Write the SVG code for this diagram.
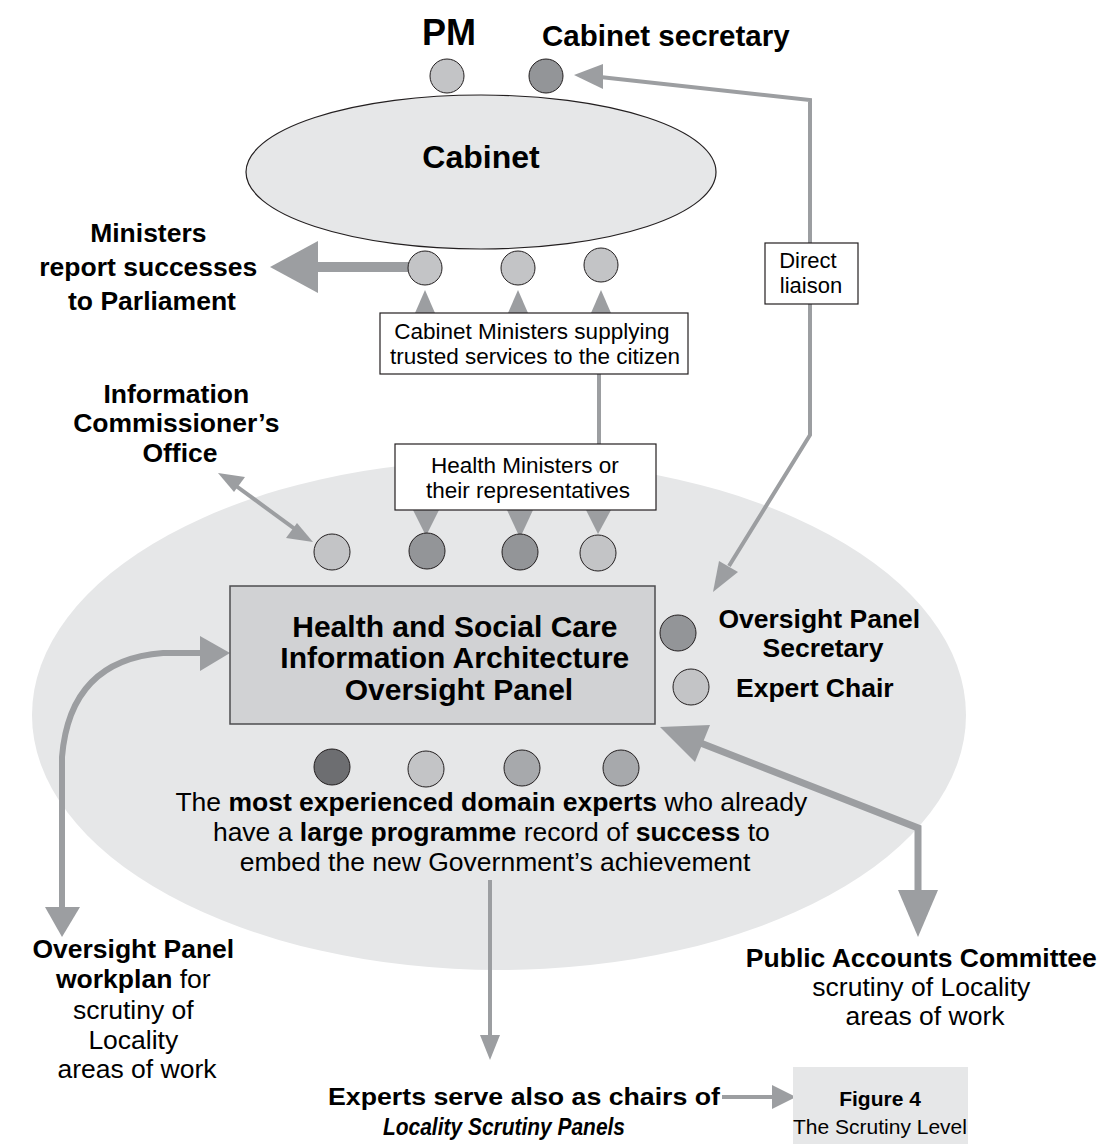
<svg xmlns="http://www.w3.org/2000/svg" width="1107" height="1144" viewBox="0 0 1107 1144">
  <defs>
    <style>
      text { font-family: "Liberation Sans", Arial, Helvetica, sans-serif; fill: #000; }
      .b { font-weight: bold; }
      .lbl { font-weight: bold; font-size: 26.5px; }
      .box { fill: #fff; stroke: #231f20; stroke-width: 1.2; }
      .small { font-size: 22.5px; }
      .dot { stroke: #231f20; stroke-width: 1; }
      .c1 { fill: #c3c4c6; }
      .c2 { fill: #a7a9ac; }
      .c3 { fill: #939598; }
      .c4 { fill: #6d6e71; }
      .ln { stroke: #9c9ea1; fill: none; }
      .hd { fill: #9c9ea1; }
      .narrow { font-family: "Liberation Sans Narrow", "Liberation Sans", Arial, sans-serif; }
    </style>
  </defs>

  <rect width="1107" height="1144" fill="#fff"/>

  <!-- background zone of the oversight level -->
  <ellipse id="oversight-zone" cx="499" cy="715" rx="467" ry="255" fill="#e6e7e8"/>

  <!-- connectors -->
  <g id="connectors">
    <!-- Ministers report to Parliament -->
    <line class="ln" x1="410" y1="267" x2="316" y2="267" stroke-width="10"/>
    <polygon class="hd" points="270,267 318,241 318,293"/>

    <!-- trunk from health ministers up to cabinet ministers -->
    <line class="ln" x1="599" y1="300" x2="599" y2="520" stroke-width="4"/>
    <polygon class="hd" points="425,290 415,313 435,313"/>
    <polygon class="hd" points="518,290 508,313 528,313"/>
    <polygon class="hd" points="601,290 591,313 611,313"/>

    <!-- health ministers down to panel members -->
    <polygon class="hd" points="413,510 439,510 426,536"/>
    <polygon class="hd" points="507,510 533,510 520,538"/>
    <polygon class="hd" points="586,510 611,510 598,534"/>

    <!-- Information Commissioner's Office two-way link -->
    <line class="ln" x1="232" y1="483" x2="299" y2="532" stroke-width="4"/>
    <polygon class="hd" points="218,473 245,477 234,492"/>
    <polygon class="hd" points="313,542 286,538 297,523"/>

    <!-- direct liaison between cabinet secretary and panel secretary -->
    <polyline class="ln" points="600,77 810,100 810,435 729,566" stroke-width="4"/>
    <polygon class="hd" points="574,75 603,64 603,89"/>
    <polygon class="hd" points="713,592 738,572 719,561"/>

    <!-- panel workplan loop -->
    <path class="ln" d="M 202 653 L 163 653 Q 70 660 62 757 L 62 909" stroke-width="6"/>
    <polygon class="hd" points="230,653 200,636 200,671"/>
    <polygon class="hd" points="45,907 80,907 62,937"/>

    <!-- Public Accounts Committee two-way link -->
    <polyline class="ln" points="698,742 918,828 918,892" stroke-width="7"/>
    <polygon class="hd" points="660,727 710,725 695,762"/>
    <polygon class="hd" points="898,890 938,890 918,937"/>

    <!-- experts down to locality panels -->
    <line class="ln" x1="490" y1="880" x2="490" y2="1037" stroke-width="4"/>
    <polygon class="hd" points="480,1035 500,1035 490,1060"/>

    <!-- locality panels to figure caption -->
    <line class="ln" x1="722" y1="1097" x2="774" y2="1097" stroke-width="4"/>
    <polygon class="hd" points="772,1085 772,1109 796,1097"/>
  </g>

  <!-- Prime Minister -->
  <g id="pm">
    <text class="b" x="449" y="45" font-size="36" text-anchor="middle">PM</text>
    <circle class="dot c1" cx="447" cy="76" r="17"/>
  </g>

  <!-- Cabinet secretary -->
  <g id="cabinet-secretary">
    <text class="b" x="542" y="46" font-size="29.5">Cabinet secretary</text>
    <circle class="dot c3" cx="546" cy="76" r="17"/>
  </g>

  <!-- Cabinet -->
  <g id="cabinet">
    <ellipse cx="481" cy="172" rx="235" ry="77" fill="#e6e7e8" stroke="#231f20" stroke-width="1.2"/>
    <text class="b" x="481" y="168" font-size="32" text-anchor="middle">Cabinet</text>
  </g>

  <!-- Cabinet ministers -->
  <g id="cabinet-ministers">
    <circle class="dot c1" cx="425" cy="268" r="17"/>
    <circle class="dot c1" cx="518" cy="268" r="17"/>
    <circle class="dot c1" cx="601" cy="265" r="17"/>
  </g>

  <g id="parliament">
    <text class="lbl" text-anchor="middle">
      <tspan x="152" y="242">Ministers</tspan>
      <tspan x="152" y="276">report successes</tspan>
      <tspan x="152" y="310">to Parliament</tspan>
    </text>
  </g>

  <g id="cabinet-ministers-label">
    <rect class="box" x="380" y="313" width="308" height="61"/>
    <text class="small" text-anchor="middle">
      <tspan x="535" y="339">Cabinet Ministers supplying</tspan>
      <tspan x="535" y="364">trusted services to the citizen</tspan>
    </text>
  </g>

  <g id="direct-liaison">
    <rect class="box" x="765" y="243" width="93" height="61"/>
    <text font-size="22" text-anchor="middle">
      <tspan x="811" y="268">Direct</tspan>
      <tspan x="811" y="293">liaison</tspan>
    </text>
  </g>

  <g id="ico">
    <text class="lbl" text-anchor="middle">
      <tspan x="180" y="403">Information</tspan>
      <tspan x="180" y="432">Commissioner’s</tspan>
      <tspan x="180" y="462">Office</tspan>
    </text>
  </g>

  <g id="health-ministers">
    <rect class="box" x="395" y="444" width="261" height="66"/>
    <text class="small" text-anchor="middle">
      <tspan x="528" y="473">Health Ministers or</tspan>
      <tspan x="528" y="498">their representatives</tspan>
    </text>
  </g>

  <!-- representatives sitting on the panel -->
  <g id="panel-representatives">
    <circle class="dot c1" cx="332" cy="552" r="18"/>
    <circle class="dot c3" cx="427" cy="551" r="18"/>
    <circle class="dot c3" cx="520" cy="552" r="18"/>
    <circle class="dot c1" cx="598" cy="553" r="18"/>
  </g>

  <!-- Oversight panel -->
  <g id="oversight-panel">
    <rect x="230" y="586" width="425" height="138" fill="#d1d2d4" stroke="#4d4d4f" stroke-width="1.5"/>
    <text class="b" font-size="30" text-anchor="middle">
      <tspan x="459" y="637">Health and Social Care</tspan>
      <tspan x="459" y="668">Information Architecture</tspan>
      <tspan x="459" y="700">Oversight Panel</tspan>
    </text>
  </g>

  <g id="panel-secretary">
    <circle class="dot c3" cx="678" cy="633" r="18"/>
    <text class="lbl" text-anchor="middle">
      <tspan x="823" y="628">Oversight Panel</tspan>
      <tspan x="823" y="657">Secretary</tspan>
    </text>
  </g>

  <g id="expert-chair">
    <circle class="dot c1" cx="691" cy="687" r="18"/>
    <text class="lbl" x="736" y="697">Expert Chair</text>
  </g>

  <!-- domain experts on the panel -->
  <g id="domain-experts">
    <circle class="dot c4" cx="332" cy="767" r="18"/>
    <circle class="dot c1" cx="426" cy="769" r="18"/>
    <circle class="dot c2" cx="522" cy="768" r="18"/>
    <circle class="dot c2" cx="621" cy="768" r="18"/>
    <text font-size="26.5" text-anchor="middle">
      <tspan x="495" y="811">The <tspan class="b">most experienced domain experts</tspan> who already</tspan>
      <tspan x="495" y="841">have a <tspan class="b">large programme</tspan> record of <tspan class="b">success</tspan> to</tspan>
      <tspan x="495" y="871">embed the new Government’s achievement</tspan>
    </text>
  </g>

  <g id="workplan">
    <text font-size="26.5" text-anchor="middle">
      <tspan class="b" x="137" y="958">Oversight Panel</tspan>
      <tspan x="137" y="988"><tspan class="b">workplan</tspan> for</tspan>
      <tspan x="137" y="1019">scrutiny of</tspan>
      <tspan x="137" y="1049">Locality</tspan>
      <tspan x="137" y="1078">areas of work</tspan>
    </text>
  </g>

  <g id="public-accounts-committee">
    <text font-size="26.5" text-anchor="middle">
      <tspan class="b" x="925" y="967">Public Accounts Committee</tspan>
      <tspan x="925" y="996">scrutiny of Locality</tspan>
      <tspan x="925" y="1025">areas of work</tspan>
    </text>
  </g>

  <g id="locality-panels">
    <text class="b narrow" x="328" y="1105" font-size="24.5" textLength="392" lengthAdjust="spacingAndGlyphs">Experts serve also as chairs of</text>
    <text class="b narrow" x="383" y="1135" font-size="24.5" font-style="italic" textLength="242" lengthAdjust="spacingAndGlyphs">Locality Scrutiny Panels</text>
  </g>

  <g id="caption">
    <rect x="793" y="1067" width="175" height="77" fill="#e6e7e8"/>
    <text class="b narrow" x="880" y="1106" font-size="21" text-anchor="middle">Figure 4</text>
    <text class="narrow" x="880" y="1134" font-size="21" text-anchor="middle">The Scrutiny Level</text>
  </g>
</svg>
